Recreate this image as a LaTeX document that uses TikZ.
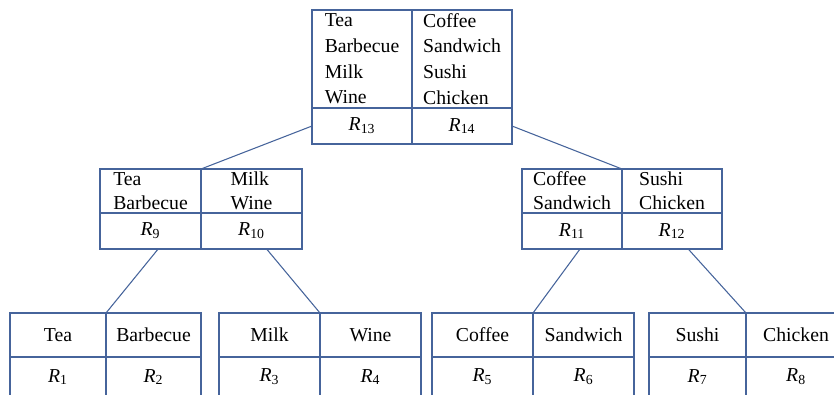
\documentclass[tikz,border=0pt]{standalone}
\usepackage{fontspec}
\setmainfont{Liberation Serif}
\usepackage{xcolor}
\usetikzlibrary{positioning}
\definecolor{lineblue}{RGB}{70,100,155}

\begin{document}
\begin{tikzpicture}[
  x=0.75pt, y=-0.75pt,
  cell/.style={draw=lineblue, line width=0.8pt, inner sep=0pt, outer sep=0pt, minimum width=75.75pt, align=left, font=\fontsize{14.8}{18}\selectfont},
  tall/.style={minimum height=73.5pt, font=\fontsize{14.8}{19.3}\selectfont},
  mid/.style={minimum height=33pt},
  low/.style={minimum height=27pt},
  leaf/.style={minimum height=30pt},
  edge/.style={draw=lineblue, line width=0.8pt}
]
  \clip (0,0) rectangle (834,394);
  % --- root ---
  \node[cell,tall,minimum width=75pt] (rA) at (362,59) {Tea\\Barbecue\\Milk\\Wine};
  \node[cell,tall,minimum width=75pt,right=0pt of rA] (rB) {Coffee\\Sandwich\\Sushi\\Chicken};
  \node[cell,low,minimum width=75pt,below=0pt of rA] (rAl) {\textit{R}\textsubscript{13}};
  \node[cell,low,minimum width=75pt,below=0pt of rB] (rBl) {\textit{R}\textsubscript{14}};
  % --- second level, left ---
  \node[cell,mid] (lA) at (150.5,191) {Tea\\Barbecue};
  \node[cell,mid,right=0pt of lA] (lB) {Milk\\Wine};
  \node[cell,low,below=0pt of lA] (lAl) {\textit{R}\textsubscript{9}};
  \node[cell,low,below=0pt of lB] (lBl) {\textit{R}\textsubscript{10}};
  % --- second level, right ---
  \node[cell,mid,minimum width=75pt] (mA) at (572,191) {Coffee\\Sandwich};
  \node[cell,mid,minimum width=75pt,right=0pt of mA] (mB) {Sushi\\Chicken};
  \node[cell,low,minimum width=75pt,below=0pt of mA] (mAl) {\textit{R}\textsubscript{11}};
  \node[cell,low,minimum width=75pt,below=0pt of mB] (mBl) {\textit{R}\textsubscript{12}};
  % --- leaves ---
  \node[cell,mid,minimum width=72pt] (a1) at (58,335) {Tea};
  \node[cell,mid,minimum width=71.25pt,right=0pt of a1] (a2) {Barbecue};
  \node[cell,leaf,minimum width=72pt,below=0pt of a1] (a1l) {\textit{R}\textsubscript{1}};
  \node[cell,leaf,minimum width=71.25pt,below=0pt of a2] (a2l) {\textit{R}\textsubscript{2}};
  \node[cell,mid] (b1) at (269.5,335) {Milk};
  \node[cell,mid,right=0pt of b1] (b2) {Wine};
  \node[cell,leaf,below=0pt of b1] (b1l) {\textit{R}\textsubscript{3}};
  \node[cell,leaf,below=0pt of b2] (b2l) {\textit{R}\textsubscript{4}};
  \node[cell,mid] (c1) at (482.5,335) {Coffee};
  \node[cell,mid,right=0pt of c1] (c2) {Sandwich};
  \node[cell,leaf,below=0pt of c1] (c1l) {\textit{R}\textsubscript{5}};
  \node[cell,leaf,below=0pt of c2] (c2l) {\textit{R}\textsubscript{6}};
  \node[cell,mid,minimum width=72.75pt] (d1) at (697.5,335) {Sushi};
  \node[cell,mid,minimum width=75pt,right=0pt of d1] (d2) {Chicken};
  \node[cell,leaf,minimum width=72.75pt,below=0pt of d1] (d1l) {\textit{R}\textsubscript{7}};
  \node[cell,leaf,minimum width=75pt,below=0pt of d2] (d2l) {\textit{R}\textsubscript{8}};
  % --- connectors ---
  \draw[edge] (rAl.west) -- (lA.north east);
  \draw[edge] (rBl.east) -- (mA.north east);
  \draw[edge] (lAl.-67) -- (a1.north east);
  \draw[edge] (lBl.-50) -- (b1.north east);
  \draw[edge] (mAl.-66) -- (c1.north east);
  \draw[edge] (mBl.-48) -- (d1.north east);
\end{tikzpicture}
\end{document}
